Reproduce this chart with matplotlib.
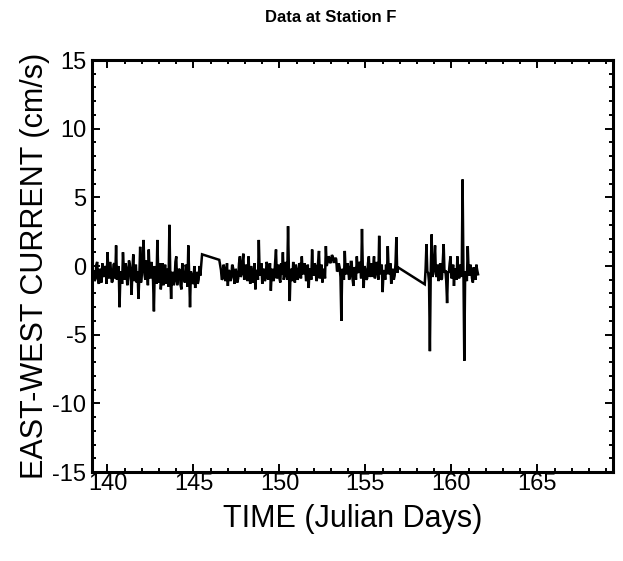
import numpy as np
import matplotlib
matplotlib.use("Agg")
import matplotlib.pyplot as plt
from matplotlib.ticker import MultipleLocator

plt.rcParams['font.family'] = ['Liberation Sans', 'DejaVu Sans']
plt.rcParams['axes.unicode_minus'] = False

# ---- data (Julian day, east-west current cm/s), sampled every 0.05 day ----
seg1_start = 139.2
seg1_vals = [-0.4, -1.1, -0.9, 0.1, 0.3, -1.0, -1.3, -0.2, -0.5, -1.2,
             0.2, -0.6, -0.8, 0.0, -0.2, -1.3, 1.0, -0.4, -0.9, 0.3,
             -0.3, -1.2, -1.1, 0.1, 0.2, -0.9, 1.5, -1.0, -0.6, 0.0,
             -3.0, -0.7, -0.4, -1.3, 1.0, -0.2, -1.0, 0.2, -0.2, -1.4,
             -0.9, 0.4, 0.1, -0.7, -2.1, -0.3, 0.85, -1.1, -0.7, 0.1,
             -1.2, -0.4, -2.4, -0.8, 1.4, -1.2, -0.5, 0.3, 1.9, -0.6,
             -1.0, 0.4, -0.3, -1.4, 1.2, -0.6, -0.9, 0.3, -0.2, -1.1,
             -3.3, 0.0, -0.6, -1.3, 1.9, -0.4, -1.2, 0.2, -1.7, -0.9,
             0.2, -1.4, -0.8, 0.1, -1.3, -0.6, -0.2, -1.5, 3.0, -0.5,
             -2.4, -0.5, -0.5, -1.4, -1.1, 0.3, 0.7, -1.4, -0.9, -0.2,
             -0.3, -1.4, -1.7, 0.2, -0.6, -0.9, -1.2, 0.1, -0.2, -1.5,
             1.5, -0.6, -3.0, -0.4, -0.7, -1.3, -1.2, 0.0, -1.6, -0.5,
             -0.5, -1.3, -1.0, 0.0, -0.7]

gap_days = [145.5, 146.5]
gap_vals = [0.85, 0.45]

seg2_start = 146.6
seg2_vals = [-0.3, -1.0, -0.9, 0.1, -0.2, -1.1, -0.7, 0.2, -1.45, -0.3,
             -0.4, -1.1, -0.8, 0.1, -0.1, -0.9, -1.3, -0.2, -0.5, -1.2,
             -0.9, 0.2, 0.7, -0.8, -0.6, 0.3, 0.9, -1.0, -0.8, 0.1,
             -0.2, -1.1, 0.7, -0.5, -1.3, 0.0, -0.4, -1.2, -0.9, 0.2,
             -1.7, -0.4, -0.3, -1.0, 1.9, -0.5, -0.7, 0.2, -1.3, -0.3,
             -0.2, -1.1, -0.9, 0.3, 0.1, -1.0, -0.6, 0.2, -1.8, -0.4,
             -0.2, -1.1, -0.8, 0.3, 1.2, -0.9, -0.5, 0.1, -0.9, -1.2,
             0.2, -0.6, 1.0, -1.0, -0.7, 0.3, -0.1, -1.0, 2.9, -0.3,
             -2.55, -0.2, -0.4, -1.1, 0.3, -0.8, -1.2, 0.1, -0.3, -1.0,
             -0.8, 0.2, 0.1, -0.9, 0.7, -0.5, -0.6, 0.2, -0.1, -1.1,
             -0.9, 0.1, -1.6, -0.3, -0.2, -1.0, 1.2, -0.4, -0.7, 0.2,
             0.0, -1.1, -0.8, 0.3, 1.1, -0.9, -0.5, 0.1, -1.2, -0.4,
             -0.2, -0.9, 1.45, 0.0, 0.3, 0.7, 0.6, 0.2, 0.4, 0.8,
             0.7, 0.3, 0.3, 0.6, 0.5, -0.4, -0.3, 0.2, -0.1, -0.8,
             -4.0, -0.2, -0.4, -1.0, 1.1, -0.5, -0.6, 0.2, -0.1, -1.0,
             -0.8, 0.3, 0.3, -0.9, -1.45, -0.1, -0.2, -1.0, 0.7, -0.4,
             -0.5, 0.3, 0.2, -0.9, 2.7, -0.3, -1.6, 0.0, -0.3, -1.0,
             -0.9, 0.2, 0.7, -0.8, -0.4, 0.2, -0.8, -0.1, 0.7, -0.9,
             -0.5, 0.3, -0.1, -1.0, 2.2, -0.4, -0.6, 0.1, -1.9, -0.5,
             -0.3, -1.0, 0.1, -0.6, 1.45, -0.3, -0.6, 0.2, -1.3, -0.4,
             -0.2, -1.0, -0.7, 0.2, 2.1, -0.5, -0.1]

seg3_start = 158.45
seg3_vals = [-1.33, -0.2, 1.6, -0.4, -0.5, -1.2, -6.2, -0.3, 2.3, -0.8,
             -0.4, 0.4, 1.5, -0.6, -0.8, 0.1, -1.1, -0.3, 0.2, -1.0,
             -0.9, 0.3, 1.6, -0.5, -0.3, -1.1, -2.7, -0.4, -0.5, 0.2,
             0.7, -0.9, -0.8, 0.1, -1.45, -0.2, -0.3, -1.0, 0.7, -0.4,
             -0.9, 0.1, -0.2, -0.8, 6.3, -0.3, -6.9, -0.5, -0.4, -1.1,
             1.45, -0.3, -0.7, 0.1, -0.2, -0.9, -1.2, -0.1, -0.5, -1.0,
             0.1, -0.3, -0.6]

step = 0.05
t1 = seg1_start + step * np.arange(len(seg1_vals))
t2 = seg2_start + step * np.arange(len(seg2_vals))
t3 = seg3_start + step * np.arange(len(seg3_vals))
days = np.concatenate([t1, gap_days, t2, t3])
vals = np.concatenate([seg1_vals, gap_vals, seg2_vals, seg3_vals])

x_ticks = [140, 145, 150, 155, 160, 165]
y_ticks = [-15, -10, -5, 0, 5, 10, 15]

fig = plt.figure(figsize=(6.23, 5.61), dpi=100)
ax = fig.add_axes([0.1477, 0.1586, 0.8363, 0.7344])
ax.plot(days, vals, color='black', lw=1.8, solid_joinstyle='miter')

ax.set_xlim(139.1, 169.4)
ax.set_ylim(-15, 15)
ax.set_xticks(x_ticks)
ax.set_yticks(y_ticks)
ax.xaxis.set_minor_locator(MultipleLocator(1))
ax.yaxis.set_minor_locator(MultipleLocator(1))
ax.tick_params(which='both', direction='in', top=True, right=True, width=1.4)
ax.tick_params(which='major', length=6, labelsize=17)
ax.tick_params(which='minor', length=3)
ax.tick_params(axis='x', which='major', pad=1)
ax.tick_params(axis='y', which='major', pad=4)
for s in ax.spines.values():
    s.set_linewidth(2.2)

ax.set_xlabel('TIME (Julian Days)', fontsize=22, labelpad=6)
ax.set_ylabel('EAST-WEST CURRENT (cm/s)', fontsize=22, labelpad=2)
fig.text(0.531, 0.968, 'Data at Station F', fontsize=12, fontweight='bold',
         ha='center', va='center')

fig.savefig('out.png', dpi=100)
